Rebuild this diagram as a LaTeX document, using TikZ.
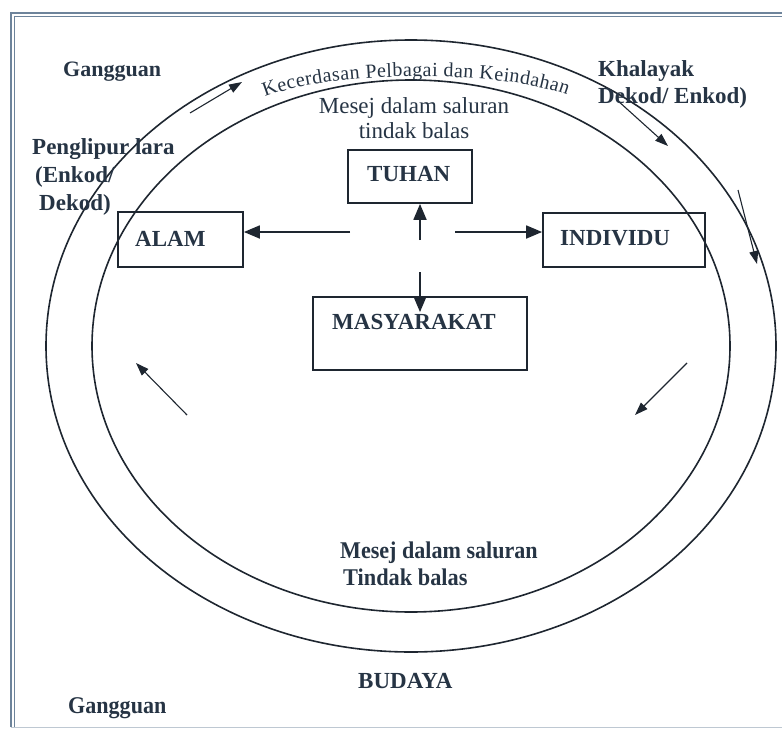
\documentclass[tikz,border=0pt]{standalone}
\usepackage{fontspec}
\setmainfont{Liberation Serif}
\usetikzlibrary{arrows.meta,decorations.text}
\definecolor{ink}{RGB}{30,38,48}
\definecolor{txt}{RGB}{38,52,68}
\definecolor{frm}{RGB}{110,132,155}
\begin{document}
\begin{tikzpicture}[x=1pt,y=-1pt,
  box/.style={draw=ink,line width=1.8pt,inner sep=0pt},
  lbl/.style={text=txt,font=\fontsize{23}{26}\selectfont\bfseries,inner sep=0pt,anchor=base west},
  reg/.style={text=txt,font=\fontsize{23}{26}\selectfont,inner sep=0pt,anchor=base},
  ar/.style={draw=ink,line width=1.8pt,-{Triangle[length=16pt,width=13pt]}},
  tar/.style={draw=ink,line width=1.1pt,-{Triangle[length=13pt,width=9pt]}},
  ring/.style={draw=ink,line width=1.6pt}]
\useasboundingbox (0,0) rectangle (782,731);
% frame
\draw[frm,line width=1.2pt] (11,727) -- (11,13) -- (782,13);
\draw[frm,line width=1.2pt] (14.5,727) -- (14.5,16.5) -- (782,16.5);
\draw[frm!45,line width=0.8pt] (11,727) -- (782,727);
% ellipses
\draw[ring] (411,346) ellipse [x radius=365pt, y radius=306pt];
\draw[ring] (411,346) ellipse [x radius=319pt, y radius=266pt];
% curved text
\path[decorate,decoration={text along path,text align={fit to path},
  text={|\fontsize{20}{20}\selectfont\color{txt}|Kecerdasan Pelbagai dan Keindahan}}]
  (265,97) .. controls (330,70) and (500,70) .. (567,95);
% boxes
\node[box,minimum width=124pt,minimum height=53pt] (tuhan) at (410,176.5) {};
\node[box,minimum width=125pt,minimum height=55pt] (alam) at (180.5,239.5) {};
\node[box,minimum width=162pt,minimum height=54pt] (indiv) at (624,240) {};
\node[box,minimum width=214pt,minimum height=73pt] (masy) at (420,333.5) {};
\node[lbl] (tuhant) at (367,181) {TUHAN};
\node[lbl] (alamt) at (135,246) {ALAM};
\node[lbl] (indivt) at (560,245) {INDIVIDU};
\node[lbl] (masyt) at (332,329) {MASYARAKAT};
% central arrows
\coordinate (hubU) at (420,240);
\coordinate (hubL) at (350,232);
\coordinate (hubR) at (455,232);
\coordinate (hubD) at (420,272);
\draw[ar] (hubU) -- (hubU |- tuhan.south);
\draw[ar] (hubL) -- (hubL -| alam.east);
\draw[ar] (hubR) -- (hubR -| indiv.west);
\draw[ar] (hubD) -- ([yshift=-16pt]hubD |- masy.north);
% band arrows
\coordinate (a1s) at (190,113); \coordinate (a1e) at (242,82);
\coordinate (a2s) at (617,100); \coordinate (a2e) at (668,146);
\coordinate (a3s) at (738,190); \coordinate (a3e) at (757,264);
\coordinate (a4s) at (687,363); \coordinate (a4e) at (635,415);
\coordinate (a5s) at (187,415); \coordinate (a5e) at (136,363);
\draw[tar] (a1s) -- (a1e);
\draw[tar] (a2s) -- (a2e);
\draw[tar] (a3s) -- (a3e);
\draw[tar] (a4s) -- (a4e);
\draw[tar] (a5s) -- (a5e);
% texts
\node[lbl,font=\fontsize{22}{24}\selectfont\bfseries] (gang1) at (63,76) {Gangguan};
\node[lbl] (khal1) at (598,76) {Khalayak};
\node[lbl] (khal2) at (598,103) {Dekod/ Enkod)};
\node[reg] (mes1) at (414,113) {Mesej dalam saluran};
\node[reg] (mes2) at (414,138) {tindak balas};
\node[lbl] (pen1) at (32,154) {Penglipur lara};
\node[lbl] (pen2) at (35,182) {(Enkod/};
\node[lbl] (pen3) at (39,210) {Dekod)};
\node[lbl] (mesb1) at (340,558) {\scalebox{0.92}[1]{\fontsize{24}{26}\selectfont\bfseries Mesej dalam saluran}};
\node[lbl] (mesb2) at (343,585) {\scalebox{0.93}[1]{\fontsize{24}{26}\selectfont\bfseries Tindak balas}};
\node[lbl] (bud) at (358,688) {BUDAYA};
\node[lbl] (gang2) at (68,713) {\scalebox{0.92}[1]{\fontsize{24}{26}\selectfont\bfseries Gangguan}};
\end{tikzpicture}
\end{document}
